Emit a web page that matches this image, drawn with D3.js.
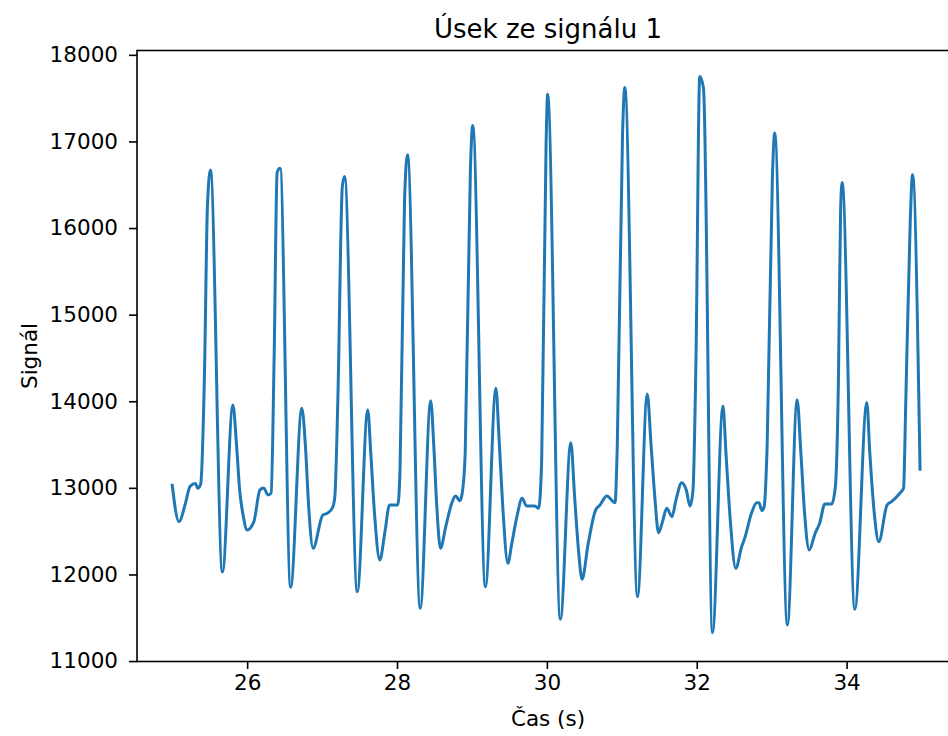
<!DOCTYPE html>
<html>
<head>
<meta charset="utf-8">
<script src="https://cdn.jsdelivr.net/npm/d3@7"></script>
<style>
	html, body { margin: 0; padding: 0; background: #fff; }
	svg { display: block; font-family: 'DejaVu Sans', sans-serif; }
	.tick text { font-family: 'DejaVu Sans', sans-serif; font-size: 21.5px; fill: #000; }
	.tick line { stroke: #000; stroke-width: 1.6px; }
	.domain { display: none; }
</style>
</head>
<body>
<svg id="chart"></svg>
<script>
// time (s) and signal samples
var times = [
	25.00, 25.09, 25.17, 25.24, 25.31, 25.34, 25.38, 25.43, 25.47, 25.51,
	25.67, 25.81, 25.86, 25.90, 25.95, 26.00, 26.09, 26.17, 26.22, 26.28,
	26.32, 26.36, 26.40, 26.44, 26.58, 26.73, 26.78, 26.82, 26.88, 27.01,
	27.07, 27.14, 27.17, 27.21, 27.27, 27.30, 27.47, 27.61, 27.65, 27.70,
	27.77, 27.84, 27.90, 28.01, 28.04, 28.10, 28.14, 28.31, 28.45, 28.49,
	28.53, 28.58, 28.65, 28.73, 28.78, 28.84, 28.87, 28.91, 28.98, 29.01,
	29.18, 29.32, 29.36, 29.41, 29.48, 29.53, 29.60, 29.67, 29.73, 29.84,
	29.89, 29.93, 29.99, 30.01, 30.18, 30.32, 30.37, 30.42, 30.47, 30.55,
	30.65, 30.71, 30.80, 30.91, 30.94, 31.01, 31.04, 31.21, 31.34, 31.39,
	31.44, 31.49, 31.54, 31.60, 31.67, 31.72, 31.80, 31.86, 31.91, 31.95,
	31.99, 32.04, 32.09, 32.21, 32.35, 32.39, 32.45, 32.52, 32.60, 32.64,
	32.73, 32.80, 32.83, 32.87, 32.90, 32.94, 33.01, 33.04, 33.21, 33.34,
	33.39, 33.44, 33.50, 33.58, 33.64, 33.71, 33.80, 33.85, 33.89, 33.92,
	33.94, 34.11, 34.27, 34.31, 34.37, 34.43, 34.54, 34.60, 34.71, 34.76,
	34.79, 34.85, 34.88, 34.98
];

var signal = [
	13030, 12610, 12800, 13020, 13050, 12995, 13045, 14300, 16250, 16670,
	12028, 13957, 13475, 12975, 12667, 12513, 12610, 12975, 12998, 12918,
	12940, 14500, 16640, 16690, 11851, 13919, 13450, 12800, 12302, 12687,
	12706, 12771, 12898, 14000, 16479, 16594, 11800, 13900, 13400, 12700,
	12167, 12500, 12802, 12802, 13200, 16300, 16845, 11609, 14007, 13500,
	12800, 12302, 12550, 12822, 12906, 12852, 12937, 13400, 16700, 17184,
	11858, 14149, 13600, 12800, 12129, 12350, 12667, 12879, 12790, 12790,
	12764, 13300, 17000, 17546, 11482, 13522, 12900, 12300, 11944, 12350,
	12744, 12802, 12906, 12829, 13500, 17100, 17623, 11743, 14084, 13500,
	12900, 12483, 12600, 12764, 12667, 12850, 13060, 12975, 12790, 12975,
	14500, 17750, 17616, 11327, 13945, 13400, 12600, 12071, 12322, 12418,
	12706, 12829, 12829, 12737, 12783, 13500, 16600, 17096, 11416, 14016,
	13400, 12700, 12282, 12475, 12590, 12813, 12813, 13013, 14200, 16200,
	16525, 11597, 13985, 13400, 12700, 12379, 12802, 12840, 12937, 12995,
	14000, 16100, 16614, 13214
];

var xTicks = [26, 28, 30, 32, 34];
var yTicks = [11000, 12000, 13000, 14000, 15000, 16000, 17000, 18000];

var TITLE = 'Úsek ze signálu 1',
	X_LABEL = 'Čas (s)',
	Y_LABEL = 'Signál';

(function() {
	'use strict';

	var
		width = 948,
		height = 736,
		margin = { top: 50.5, left: 137 },
		plotWidth = 822,
		plotHeight = 611,
		data = times.map(function(t, i) {
			return { t: t, v: signal[i] };
		}),
		svg = d3.select('#chart')
			.attr('width', width)
			.attr('height', height);

	var x = d3.scaleLinear()
		.domain([24.53, 35.5])
		.range([margin.left, margin.left + plotWidth]);

	var y = d3.scaleLinear()
		.domain([10995, 18050])
		.range([margin.top + plotHeight, margin.top]);

	// signal line
	svg.append('path')
		.datum(data)
		.attr('fill', 'none')
		.attr('stroke', '#1f77b4')
		.attr('stroke-width', 3)
		.attr('stroke-linejoin', 'round')
		.attr('stroke-linecap', 'square')
		.attr('d', d3.line()
			.curve(d3.curveMonotoneX)
			.x(function(d) { return x(d.t); })
			.y(function(d) { return y(d.v); }));

	// axes
	svg.append('g')
		.attr('transform', 'translate(0,' + (margin.top + plotHeight) + ')')
		.call(d3.axisBottom(x)
			.tickValues(xTicks)
			.tickFormat(d3.format('d'))
			.tickSizeOuter(0)
			.tickSize(7.5)
			.tickPadding(6));

	svg.append('g')
		.attr('transform', 'translate(' + margin.left + ',0)')
		.call(d3.axisLeft(y)
			.tickValues(yTicks)
			.tickFormat(d3.format('d'))
			.tickSizeOuter(0)
			.tickSize(8)
			.tickPadding(11));

	// spines
	svg.append('rect')
		.attr('x', margin.left)
		.attr('y', margin.top)
		.attr('width', plotWidth)
		.attr('height', plotHeight)
		.attr('fill', 'none')
		.attr('stroke', '#000')
		.attr('stroke-width', 1.6);

	// labels
	svg.append('text')
		.attr('x', margin.left + plotWidth / 2)
		.attr('y', 38)
		.attr('text-anchor', 'middle')
		.attr('font-size', 26)
		.text(TITLE);

	svg.append('text')
		.attr('x', margin.left + plotWidth / 2)
		.attr('y', 726)
		.attr('text-anchor', 'middle')
		.attr('font-size', 21.5)
		.text(X_LABEL);

	svg.append('text')
		.attr('transform', 'translate(37,' + (margin.top + plotHeight / 2) + ') rotate(-90)')
		.attr('text-anchor', 'middle')
		.attr('font-size', 21.5)
		.text(Y_LABEL);
})();
</script>
</body>
</html>
